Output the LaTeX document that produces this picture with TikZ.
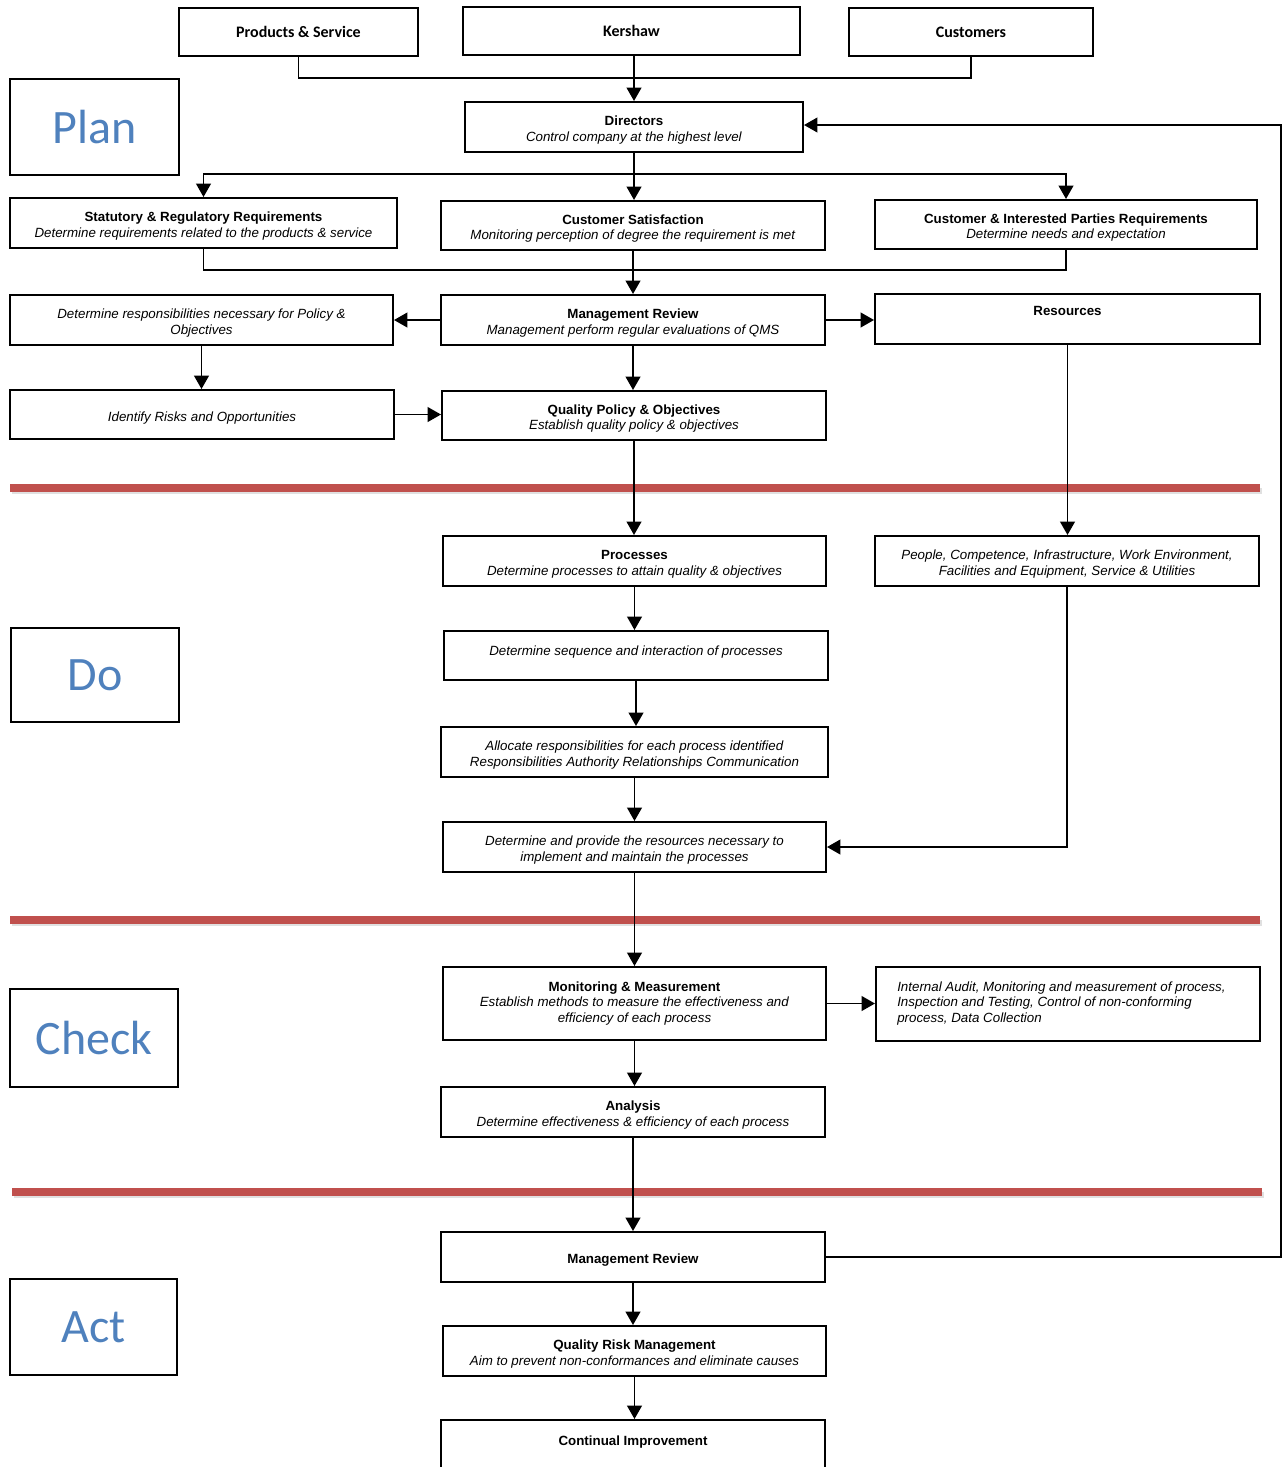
\documentclass[tikz,border=0pt]{standalone}
\usepackage{fontspec}
\setmainfont{Liberation Sans}
\newfontfamily\phasefont{Carlito}
\newfontfamily\topfont{Carlito}
\usetikzlibrary{arrows.meta}
\definecolor{phaseblue}{HTML}{4F81BD}
\definecolor{barred}{HTML}{C0504D}
\newcommand{\mystrut}{\rule{0pt}{11.9pt}}
\begin{document}
\begin{tikzpicture}[x=0.75pt,y=-0.75pt,
  rc/.style n args={4}{minimum width={(#3-#1)*0.75pt}, minimum height={(#4-#2)*0.75pt}, at={({(#1+#3)/2},{(#2+#4)/2})}},
  box/.style={draw, line width=1.5pt, inner sep=0pt, align=center, font=\fontsize{10}{11.6}\selectfont},
  topbox/.style={box, font=\topfont\bfseries\fontsize{12}{14}\selectfont},
  phase/.style={draw, line width=1.5pt, inner sep=0pt, text=phaseblue, font=\phasefont\fontsize{36}{40}\selectfont},
  arr/.style={line width=1.4pt, -{Triangle[width=11pt,length=10pt]}},
  ln/.style={line width=1.4pt},
  bar/.style={line width=6pt, barred},
  barshadow/.style={line width=5pt, black, opacity=0.12}]
\useasboundingbox (0,0) rectangle (1282,1467);
% red separators
\foreach \yy/\xa/\xb in {488/10/1260, 920/10/1260, 1192/12/1262}{
  \draw[barshadow] (\xa+2,\yy+3) -- (\xb+2,\yy+3);
  \draw[bar] (\xa,\yy) -- (\xb,\yy);
}
% phase boxes
\node[phase, rc={10}{79}{179}{175}] (plan) {Plan};
\node[phase, rc={11}{628}{179}{722}] (do) {Do};
\node[phase, rc={10}{989}{178}{1087}] (check) {Check};
\node[phase, rc={10}{1279}{177}{1375}] (act) {Act};
% top row
\node[topbox, rc={179}{8}{418}{56}] (ps) {Products \& Service};
\node[topbox, rc={463}{7}{800}{55}] (ke) {Kershaw};
\node[topbox, rc={849}{8}{1093}{56}] (cu) {Customers};
% plan
\node[box, rc={465}{102}{803}{152}] (dir) {\mystrut\textbf{Directors}\\\textit{Control company at the highest level}};
\node[box, rc={10}{198}{397}{248}] (st) {\mystrut\textbf{Statutory \& Regulatory Requirements}\\\textit{Determine requirements related to the products \& service}};
\node[box, rc={441}{201}{825}{250}] (cs) {\mystrut\textbf{Customer Satisfaction}\\\textit{Monitoring perception of degree the requirement is met}};
\node[box, rc={875}{200}{1257}{249}] (cip) {\mystrut\textbf{Customer \& Interested Parties Requirements}\\\textit{Determine needs and expectation}};
\node[box, rc={10}{295}{393}{345}] (dr) {\mystrut\textit{Determine responsibilities necessary for Policy \&}\\\textit{Objectives}};
\node[box, rc={441}{295}{825}{345}] (mr) {\mystrut\textbf{Management Review}\\\textit{Management perform regular evaluations of QMS}};
\node[box, rc={875}{294}{1260}{344}] (res) {\textbf{Resources}\\~};
\node[box, rc={10}{390}{394}{439}] (ir) {\mystrut\textit{Identify Risks and Opportunities}};
\node[box, rc={442}{391}{826}{440}] (qp) {\mystrut\textbf{Quality Policy \& Objectives}\\\textit{Establish quality policy \& objectives}};
% do
\node[box, rc={443}{536}{826}{586}] (pr) {\mystrut\textbf{Processes}\\\textit{Determine processes to attain quality \& objectives}};
\node[box, rc={875}{536}{1259}{586}] (pe) {\mystrut\textit{People, Competence, Infrastructure, Work Environment,}\\\textit{Facilities and Equipment, Service \& Utilities}};
\node[box, rc={444}{631}{828}{680}] (seq) {\mystrut\textit{Determine sequence and interaction of processes}\\~};
\node[box, rc={441}{727}{828}{777}] (al) {\mystrut\textit{Allocate responsibilities for each process identified}\\\textit{Responsibilities Authority Relationships Communication}};
\node[box, rc={443}{822}{826}{872}] (dp) {\mystrut\textit{Determine and provide the resources necessary to}\\\textit{implement and maintain the processes}};
% check
\node[box, rc={443}{967}{826}{1040}] (mon) {\textbf{Monitoring \& Measurement}\\\textit{Establish methods to measure the effectiveness and}\\\textit{efficiency of each process}};
\node[box, rc={876}{967}{1260}{1041}] (ia) {};
\node[font=\fontsize{10}{11.6}\selectfont\itshape, align=left, anchor=west, inner sep=0pt] (iatext) at (897,1003.5) {Internal Audit, Monitoring and measurement of process,\\Inspection and Testing, Control of non-conforming\\process, Data Collection};
\node[box, rc={441}{1087}{825}{1137}] (an) {\mystrut\textbf{Analysis}\\\textit{Determine effectiveness \& efficiency of each process}};
% act
\node[box, rc={441}{1232}{825}{1282}] (mr2) {\mystrut\textbf{Management Review}};
\node[box, rc={443}{1326}{826}{1376}] (qrm) {\mystrut\textbf{Quality Risk Management}\\\textit{Aim to prevent non-conformances and eliminate causes}};
\node[box, rc={441}{1420}{825}{1470}] (ci) {\mystrut\textbf{Continual Improvement}\\~};
% coordinates
\coordinate (j1) at (635,78);
\coordinate (j2) at (634,174);
\coordinate (j3) at (633,270);
\coordinate (rt) at (1281,125);
% connectors
\draw[ln] (ps.south) |- (j1) -| (cu.south);
\draw[arr] (dir.north |- ke.south) -- (dir.north);
\draw[arr] (dir.south) -- (dir.south |- cs.north);
\draw[arr] (j2) -| (st.north);
\draw[arr] (j2) -| (cip.north);
\draw[ln] (st.south) |- (j3) -| (cip.south);
\draw[arr] (cs.south) -- (cs.south |- mr.north);
\draw[arr] (mr.west) -- (mr.west -| dr.east);
\draw[arr] (mr.east) -- (mr.east -| res.west);
\draw[arr] (dr.south) -- (dr.south |- ir.north);
\draw[arr] (ir.east) -- (ir.east -| qp.west);
\draw[arr] (mr.south) -- (mr.south |- qp.north);
\draw[arr] (qp.south) -- (qp.south |- pr.north);
\draw[arr] (res.south) -- (res.south |- pe.north);
\draw[arr] (pr.south) -- (pr.south |- seq.north);
\draw[arr] (seq.south) -- (seq.south |- al.north);
\draw[arr] (al.south) -- (al.south |- dp.north);
\draw[arr] (pe.south) |- (dp.east);
\draw[arr] (dp.south) -- (dp.south |- mon.north);
\draw[arr] (mon.east) -- (mon.east -| ia.west);
\draw[arr] (mon.south) -- (mon.south |- an.north);
\draw[arr] (an.south) -- (an.south |- mr2.north);
\draw[arr] (mr2.south) -- (mr2.south |- qrm.north);
\draw[arr] (qrm.south) -- (qrm.south |- ci.north);
\draw[arr] (mr2.east) -| (rt) -- (rt -| dir.east);
\end{tikzpicture}
\end{document}
